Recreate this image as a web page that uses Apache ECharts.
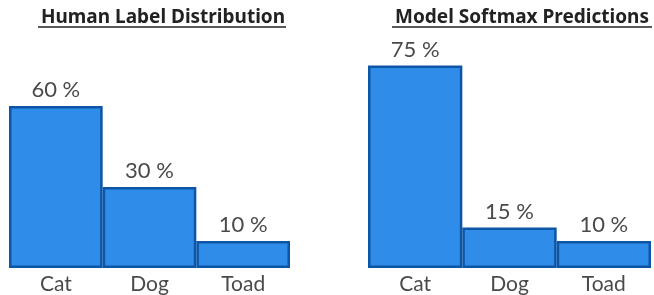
<!DOCTYPE html>
<html>
<head>
<meta charset="utf-8">
<script src="https://cdn.jsdelivr.net/npm/echarts@6/dist/echarts.min.js"></script>
<style>
  html, body { margin: 0; padding: 0; background: #fff; }
  #chart { width: 654px; height: 295px; }
</style>
</head>
<body>
<div id="chart"></div>
<script>
var categories = ['Cat', 'Dog', 'Toad'];
var humanLabels = [60, 30, 10];
var modelSoftmax = [75, 15, 10];
var panelTitles = ['Human Label Distribution', 'Model Softmax Predictions'];

var myChart = echarts.init(document.getElementById('chart'));

function makeSeries(idx, values) {
    return {
        type: 'bar',
        xAxisIndex: idx,
        yAxisIndex: idx,
        data: values,
        barWidth: '100%',
        barCategoryGap: 0,
        itemStyle: {
            color: '#2f8ce8',
            borderColor: '#0d56a6',
            borderWidth: 2.5
        },
        label: {
            show: true,
            position: 'top',
            distance: 5,
            formatter: '{c} %',
            color: '#4a4a4a',
            fontFamily: 'Lato',
            fontSize: 22
        }
    };
}

function makeXAxis(idx) {
    return {
        type: 'category',
        gridIndex: idx,
        data: categories,
        axisLine: { show: false },
        axisTick: { show: false },
        axisLabel: {
            color: '#4a4a4a',
            fontFamily: 'Lato',
            fontSize: 21,
            margin: 6
        }
    };
}

function makeYAxis(idx) {
    return {
        type: 'value',
        gridIndex: idx,
        min: 0,
        max: 80,
        show: false
    };
}

var titleStyle = { fontFamily: 'Noto Sans', fontWeight: 'bold', fontSize: 19, color: '#222' };

myChart.setOption({
    animation: false,
    title: [
        { text: panelTitles[0], left: 158, top: 3, textAlign: 'center', textStyle: titleStyle },
        { text: panelTitles[1], left: 517, top: 3, textAlign: 'center', textStyle: titleStyle }
    ],
    graphic: [
        { type: 'line', shape: { x1: 38, y1: 27, x2: 286, y2: 27 }, style: { stroke: '#222', lineWidth: 1.5 } },
        { type: 'line', shape: { x1: 392, y1: 27, x2: 652, y2: 27 }, style: { stroke: '#222', lineWidth: 1.5 } }
    ],
    grid: [
        { left: 9, right: 364, top: 52, bottom: 27 },
        { left: 368, right: 3, top: 52, bottom: 27 }
    ],
    xAxis: [makeXAxis(0), makeXAxis(1)],
    yAxis: [makeYAxis(0), makeYAxis(1)],
    series: [makeSeries(0, humanLabels), makeSeries(1, modelSoftmax)]
});
</script>
</body>
</html>
